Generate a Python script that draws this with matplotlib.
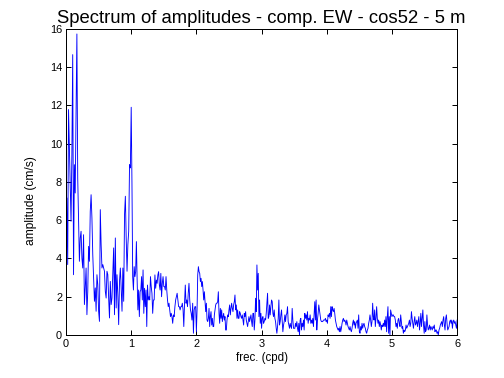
import numpy as np
import matplotlib
matplotlib.use("Agg")
import matplotlib.pyplot as plt

# amplitudes, one list per cpd band
amp_0_1 = [0, 7.16, 3.68, 11.78, 9.77, 7.68, 5.94, 9.43, 14.65, 3.15,
           8.9, 7.42, 11.43, 15.73, 8.2, 5.94, 3.85, 5.07, 5.42, 4.02,
           3.5, 5.24, 1.59, 2.46, 3.5, 1.06, 2.28, 4.63, 3.85, 6.46,
           7.33, 6.11, 4.2, 2.98, 1.76, 2.46, 1.24, 3.15, 2.63, 1.24,
           0.71, 6.55, 4.72, 3.5, 3.68, 3.5, 3.33, 2.28, 1.93, 3.33,
           3.15, 1.93, 0.89, 2.8, 1.59, 1.93, 3.33, 4.55, 1.06, 5.07,
           1.41, 3.15, 2.11, 0.54, 2.8, 3.5, 2.46, 1.24, 3.5, 1.76,
           6.29, 7.25, 5.07, 3.33, 4.72, 5.42, 8.9, 8.73]
amp_1_2 = [11.9, 8.0, 3.05, 2.35, 3.57, 3.05, 3.31, 4.88, 2.87, 1.31,
           2.35, 0.96, 2.26, 2.35, 3.05, 1.83, 3.4, 1.13, 2.44, 1.48,
           2.35, 0.44, 2.61, 1.83, 2.0, 1.83, 3.05, 2.53, 2.18, 1.13,
           1.83, 1.83, 3.14, 2.44, 2.87, 2.7, 3.14, 3.31, 2.61, 2.35,
           3.22, 2.0, 2.7, 3.05, 2.53, 2.53, 2.35, 3.05, 2.35, 1.83,
           1.48, 1.66, 1.31, 0.96, 1.13, 0.96, 0.61, 1.05, 0.96, 1.48,
           1.83, 2.0, 2.18, 1.83, 1.48, 1.48, 1.31, 1.48, 1.48, 1.66,
           1.31, 0.44, 1.66, 2.61, 1.66, 1.83, 1.48, 2.18, 2.7, 1.83,
           1.31, 1.13, 0.78, 1.66, 0.09, 1.31, 1.48, 1.48]
amp_2_3 = [0.17, 1.31, 3.14, 3.57, 3.31, 3.22, 2.79, 2.96, 2.53, 2.79,
           2.35, 1.83, 2.26, 1.74, 1.22, 1.66, 0.78, 0.7, 0.87, 1.39,
           0.44, 0.96, 1.22, 0.52, 0.87, 0.44, 0.44, 1.05, 1.31, 1.57,
           1.66, 1.66, 1.74, 2.26, 1.13, 0.61, 1.39, 0.87, 1.31, 0.7,
           0.96, 1.13, 0.78, 0.96, 0.26, 0.26, 0.78, 1.05, 0.96, 1.31,
           1.57, 1.05, 1.39, 1.66, 1.39, 1.22, 1.57, 1.74, 2.09, 1.31,
           1.57, 0.87, 1.31, 0.87, 0.87, 1.22, 1.13, 0.96, 0.87, 1.05,
           0.78, 0.52, 1.13, 0.96, 1.22, 0.78, 0.61, 0.44, 0.7, 0.96,
           0.7, 0.87, 1.05, 0.7, 0.44, 1.13, 1.13, 0.26, 0.78, 1.92,
           1.22, 3.66, 2.35, 3.22, 0.96, 1.83, 0.61, 1.13]
amp_3_4 = [0.35, 0.87, 0.96, 0.61, 0.7, 0.87, 0.78, 1.13, 1.66, 2.18,
           0.87, 0.96, 1.57, 1.05, 1.48, 1.83, 1.74, 1.13, 0.96, 1.31,
           0.87, 0.7, 0.35, 0.09, 0.44, 0.87, 1.83, 0.52, 0.7, 1.05,
           1.31, 0.78, 0.17, 0.52, 0.7, 1.05, 0.7, 1.05, 1.13, 1.48,
           0.7, 0.52, 0.35, 0.61, 0.44, 0.35, 1.39, 0.78, 0.35, 0.35,
           0.35, 0.61, 0.44, 0.7, 0.35, 0.17, 0.61, 0.0, 0.78, 0.87,
           0.26, 0.61, 0.44, 0.78, 0.26, 1.13, 0.87, 1.05, 0.78, 1.22,
           0.61, 0.87, 0.78, 1.05, 0.61, 0.78, 0.61, 0.87, 0.44, 1.13,
           1.74, 0.78, 1.83, 0.26, 0.78, 1.13, 1.57, 1.31, 1.05, 0.78,
           0.7, 0.7, 0.7, 0.78, 0.78, 0.78, 0.87, 0.7]
amp_4_5 = [0.78, 0.61, 1.05, 0.96, 1.13, 0.87, 1.48, 0.96, 1.48, 1.31,
           1.22, 1.39, 1.13, 0.78, 0.61, 0.44, 0.35, 0.26, 0.35, 0.17,
           0.44, 0.17, 0.35, 0.61, 0.78, 0.87, 0.7, 0.78, 0.7, 0.52,
           0.78, 0.61, 0.44, 0.35, 0.26, 0.44, 0.26, 0.17, 0.35, 0.61,
           0.78, 0.52, 0.7, 0.35, 0.61, 0.7, 0.78, 0.35, 1.05, 0.17,
           0.09, 0.44, 0.26, 0.61, 0.35, 0.52, 0.61, 0.44, 0.35, 0.17,
           0.09, 0.26, 0.35, 0.61, 0.78, 1.05, 0.78, 0.44, 0.7, 1.66,
           0.96, 0.78, 1.31, 0.44, 0.87, 1.48, 0.87, 0.61, 0.78, 0.44,
           0.7, 0.52, 0.26, 0.52, 0.44, 0.61, 0.44, 0.78, 0.44, 0.96,
           0.17, 0.96, 1.48, 0.09, 0.96, 0.0, 1.31, 1.13]
amp_5_6 = [0.96, 1.05, 1.05, 0.96, 0.96, 0.78, 0.44, 0.61, 0.35, 0.78,
           0.87, 0.61, 0.44, 1.05, 0.7, 0.35, 0.44, 0.09, 0.26, 0.17,
           0.26, 0.52, 0.35, 0.44, 0.52, 0.61, 0.78, 0.44, 0.61, 1.22,
           0.87, 0.61, 0.35, 0.7, 0.96, 0.52, 0.61, 0.78, 0.44, 0.7,
           0.96, 0.26, 0.61, 1.13, 0.44, 0.87, 1.31, 0.52, 0.09, 0.7,
           0.17, 0.26, 1.05, 0.52, 0.26, 0.35, 0.52, 0.26, 0.44, 0.35,
           0.26, 0.44, 0.35, 0.52, 0.17, 0.26, 0.26, 0.09, 0.17, 0.0,
           0.26, 0.35, 0.52, 0.61, 0.7, 0.44, 0.78, 0.96, 0.52, 0.26,
           0.87, 1.05, 0.61, 0.26, 0.35, 0.44, 0.7, 0.78, 0.61, 0.78,
           0.35, 0.7, 0.78, 0.61, 0.7, 0.52, 0.35, 0.78]

bands = [amp_0_1, amp_1_2, amp_2_3, amp_3_4, amp_4_5, amp_5_6]

freq = []
amp = []
for k, band in enumerate(bands):
    n = len(band)
    if k == len(bands) - 1:
        f = k + np.linspace(0, 1, n)
    else:
        f = k + np.arange(n) / n
    freq.extend(f)
    amp.extend(band)

plt.rcParams['font.family'] = ['Liberation Sans', 'DejaVu Sans']

fig = plt.figure(figsize=(7, 5.25), dpi=72)
ax = fig.add_axes([0.131, 0.1138, 0.776, 0.810])
ax.plot(freq, amp, color='#0000ff', lw=0.9)

ax.set_xlim(0, 6)
ax.set_ylim(0, 16)
ax.set_xticks(range(0, 7))
ax.set_yticks(range(0, 17, 2))
ax.tick_params(direction='in', top=True, right=True, length=5, width=1,
               labelsize=11, pad=4)
for s in ax.spines.values():
    s.set_linewidth(1)

ax.set_title('Spectrum of amplitudes - comp. EW - cos52 - 5 m', fontsize=18.5, pad=6)
ax.set_xlabel('frec. (cpd)', fontsize=11.5, labelpad=3)
ax.set_ylabel('amplitude (cm/s)', fontsize=12, labelpad=6)
ax.yaxis.set_label_coords(-0.075, 0.44)

fig.savefig('out.png', dpi=72, facecolor='white')
